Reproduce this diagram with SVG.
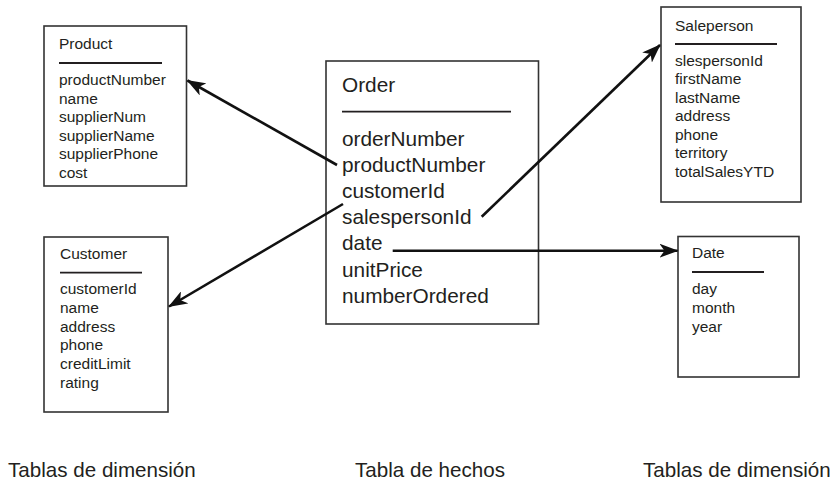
<svg xmlns="http://www.w3.org/2000/svg" width="836" height="483" viewBox="0 0 836 483">
<style>
text{font-family:"Liberation Sans",Arial,sans-serif;fill:#231f20}
.s{font-size:15.5px}
.b{font-size:20.8px}
.box{fill:#fff;stroke:#333;stroke-width:1.6}
.rule{stroke:#231f20;stroke-width:1.8}
.conn{stroke:#111;stroke-width:2.6;fill:none;marker-end:url(#arr)}
</style>
<defs>
<marker id="arr" markerUnits="userSpaceOnUse" markerWidth="20" markerHeight="14" refX="18" refY="7" orient="auto">
<path d="M0,0 L19,7 L0,14 L5,7 z" fill="#111"/>
</marker>
</defs>
<rect width="836" height="483" fill="#fff"/>
<g id="product">
<rect class="box" x="44" y="26" width="142.5" height="160"/>
<text class="s" x="59" y="49">Product</text>
<line class="rule" x1="59" y1="63" x2="162" y2="63"/>
<text class="s" x="59" y="85">productNumber</text>
<text class="s" x="59" y="103.6">name</text>
<text class="s" x="59" y="122.2">supplierNum</text>
<text class="s" x="59" y="140.8">supplierName</text>
<text class="s" x="59" y="159.4">supplierPhone</text>
<text class="s" x="59" y="178">cost</text>
</g>
<g id="customer">
<rect class="box" x="44" y="237" width="124" height="175"/>
<text class="s" x="60" y="259.3">Customer</text>
<line class="rule" x1="60" y1="272.7" x2="142" y2="272.7"/>
<text class="s" x="60" y="294">customerId</text>
<text class="s" x="60" y="312.8">name</text>
<text class="s" x="60" y="331.6">address</text>
<text class="s" x="60" y="350.4">phone</text>
<text class="s" x="60" y="369.2">creditLimit</text>
<text class="s" x="60" y="388">rating</text>
</g>
<g id="order">
<rect class="box" x="326" y="61" width="212.5" height="263"/>
<text class="b" x="342" y="91.5">Order</text>
<line class="rule" x1="342" y1="111.7" x2="511" y2="111.7"/>
<text class="b" x="342" y="145.5">orderNumber</text>
<text class="b" x="342" y="171.7">productNumber</text>
<text class="b" x="342" y="197.9">customerId</text>
<text class="b" x="342" y="224.1">salespersonId</text>
<text class="b" x="342" y="250.3">date</text>
<text class="b" x="342" y="276.5">unitPrice</text>
<text class="b" x="342" y="302.7">numberOrdered</text>
</g>
<g id="saleperson">
<rect class="box" x="661" y="7" width="140" height="195"/>
<text class="s" x="675" y="31">Saleperson</text>
<line class="rule" x1="675" y1="44" x2="777" y2="44"/>
<text class="s" x="675" y="65.7">slespersonId</text>
<text class="s" x="675" y="84.2">firstName</text>
<text class="s" x="675" y="102.7">lastName</text>
<text class="s" x="675" y="121.2">address</text>
<text class="s" x="675" y="139.7">phone</text>
<text class="s" x="675" y="158.2">territory</text>
<text class="s" x="675" y="176.7">totalSalesYTD</text>
</g>
<g id="date">
<rect class="box" x="678" y="236.5" width="121" height="140.5"/>
<text class="s" x="692" y="258">Date</text>
<line class="rule" x1="692" y1="272" x2="764" y2="272"/>
<text class="s" x="692" y="294">day</text>
<text class="s" x="692" y="312.8">month</text>
<text class="s" x="692" y="331.6">year</text>
</g>
<g id="connectors">
<line class="conn" x1="337" y1="165" x2="187.5" y2="80.5"/>
<line class="conn" x1="343" y1="204" x2="169" y2="306.5"/>
<line class="conn" x1="481.7" y1="216.7" x2="660" y2="45"/>
<line class="conn" x1="392.7" y1="250.7" x2="677.5" y2="250.7"/>
</g>
<g id="labels">
<text class="b" x="8" y="476.7" style="font-size:20.6px">Tablas de dimensión</text>
<text class="b" x="355" y="476.7" style="font-size:20.6px">Tabla de hechos</text>
<text class="b" x="643" y="476.7" style="font-size:20.6px">Tablas de dimensión</text>
</g>
</svg>
